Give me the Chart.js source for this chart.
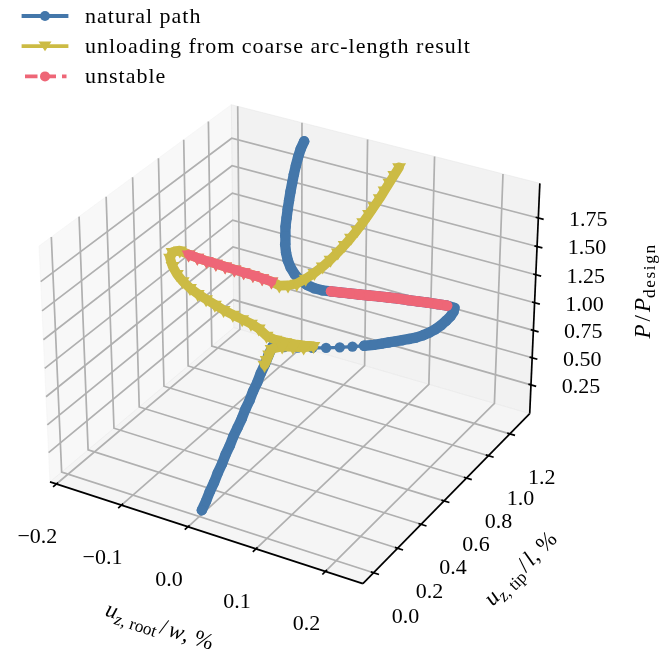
<!DOCTYPE html>
<html>
<head>
<meta charset="utf-8">
<title>natural path / unloading / unstable</title>
<script src="https://cdn.jsdelivr.net/npm/chart.js@4.4.1/dist/chart.umd.min.js"></script>
<style>
  html, body { margin: 0; padding: 0; background: #fff; }
  canvas { display: block; }
</style>
</head>
<body>
<canvas id="chart" width="660" height="660"></canvas>
<script>
// axis limits (data units) and ticks
const xLim = [-0.21, 0.253];
const yLim = [-0.087, 1.39];
const zLim = [-0.017, 2.05];
const xTicks = [-0.2, -0.1, 0.0, 0.1, 0.2];
const yTicks = [0.0, 0.2, 0.4, 0.6, 0.8, 1.0, 1.2];
const zTicks = [0.25, 0.5, 0.75, 1.0, 1.25, 1.5, 1.75];
const xTickLabels = ['−0.2', '−0.1', '0.0', '0.1', '0.2'];
const yTickLabels = ['0.0', '0.2', '0.4', '0.6', '0.8', '1.0', '1.2'];
const zTickLabels = ['0.25', '0.50', '0.75', '1.00', '1.25', '1.50', '1.75'];

// natural path  (x = u_z,root/w %, y = u_z,tip/l %, z = P/P_design)
const natX = [
  0.008, 0.008, 0.007, 0.007, 0.006, 0.006, 0.005, 0.005, 0.004, 0.004,
  0.004, 0.003, 0.003, 0.002, 0.002, 0.001, 0.001, 0.000, 0.000,
  0.0165, 0.036, 0.0569, 0.0763, 0.0951, 0.1123, 0.1277, 0.1407, 0.1506, 0.1594, 0.1683,
  0.1771, 0.1858, 0.1943, 0.2025, 0.2098, 0.2157, 0.2206, 0.2234, 0.2257, 0.2264, 0.2255,
  0.2126, 0.1974, 0.1822, 0.167, 0.1519, 0.1366, 0.1214, 0.1064, 0.0921, 0.0778, 0.0633, 0.0495, 0.0369, 0.0241,
  0.0148, 0.0044, -0.0065, -0.0174, -0.0284, -0.0378, -0.0466, -0.0544, -0.0619, -0.0673,
  -0.0723, -0.0771, -0.0816, -0.0861, -0.0895, -0.0929, -0.0935, -0.0936, -0.091, -0.0856
];
const natY = [
  -0.020, 0.014, 0.048, 0.082, 0.116, 0.150, 0.184, 0.218, 0.252, 0.287,
  0.321, 0.355, 0.389, 0.423, 0.457, 0.491, 0.525, 0.559, 0.593,
  0.5971, 0.6019, 0.6059, 0.6098, 0.6171, 0.6243, 0.6334, 0.6398, 0.6477, 0.6535, 0.6586,
  0.6644, 0.6708, 0.6778, 0.6869, 0.7008, 0.7148, 0.7351, 0.7598, 0.7835, 0.8043, 0.8177,
  0.8334, 0.8412, 0.849, 0.856, 0.8622, 0.8691, 0.8746, 0.8792, 0.8789, 0.8786, 0.8789, 0.875, 0.8724, 0.8704,
  0.8568, 0.8537, 0.8575, 0.873, 0.8985, 0.9262, 0.9602, 0.9957, 1.0371, 1.0713,
  1.1063, 1.142, 1.1784, 1.2153, 1.2484, 1.2817, 1.3021, 1.3216, 1.3295, 1.3287
];
const natZ = [
  0.077, 0.124, 0.170, 0.217, 0.263, 0.310, 0.357, 0.403, 0.450, 0.496,
  0.543, 0.590, 0.636, 0.683, 0.729, 0.776, 0.823, 0.869, 0.916,
  0.935, 0.96, 0.99, 1.02, 1.05, 1.08, 1.105, 1.13, 1.15, 1.17, 1.19,
  1.21, 1.23, 1.25, 1.275, 1.30, 1.325, 1.35, 1.37, 1.39, 1.41, 1.43,
  1.415, 1.395, 1.375, 1.355, 1.335, 1.315, 1.295, 1.275, 1.26, 1.245, 1.23, 1.22, 1.21, 1.20,
  1.215, 1.23, 1.25, 1.27, 1.29, 1.315, 1.34, 1.37, 1.40, 1.44,
  1.48, 1.52, 1.56, 1.60, 1.645, 1.69, 1.75, 1.81, 1.88, 1.956
];

// unloading from coarse arc-length result
const unlX = [
  0.0601, 0.0612, 0.0624, 0.0636, 0.0648, 0.0655, 0.0653, 0.066, 0.066, 0.0647,
  0.0628, 0.0603, 0.0573, 0.0531, 0.0477, 0.0419, 0.0348, 0.0244, 0.012,
  -0.0044, -0.0213, -0.0375, -0.0531, -0.0689, -0.0849, -0.101, -0.1169, -0.1334, -0.1499,
  -0.1671, -0.1749, -0.1709, -0.1579, -0.1443, -0.1298, -0.1153, -0.1016, -0.0881, -0.0741,
  -0.0602, -0.0464, -0.0332, -0.0207, -0.0086,
  0.0066, 0.0185, 0.0295, 0.0399, 0.0497, 0.0572, 0.0461, 0.0314, 0.0166,
  0.0001, 0.0004, 0.0007, 0.0009
];
const unlY = [
  1.3165, 1.268, 1.2187, 1.1698, 1.1212, 1.0719, 1.0272, 0.9737, 0.9243, 0.8785,
  0.8366, 0.7939, 0.7504, 0.7098, 0.6718, 0.6324, 0.6001, 0.5862, 0.5836,
  0.6097, 0.6266, 0.6394, 0.6486, 0.6585, 0.6691, 0.6798, 0.689, 0.7011, 0.7164,
  0.7354, 0.7175, 0.6773, 0.6296, 0.5939, 0.5651, 0.5472, 0.5374, 0.5321, 0.528,
  0.5238, 0.5242, 0.5281, 0.5311, 0.5285,
  0.5089, 0.5153, 0.5341, 0.5562, 0.5818, 0.6123, 0.594, 0.5874, 0.5807,
  0.5838, 0.5624, 0.5409, 0.5225
];
const unlZ = [
  1.956, 1.93, 1.905, 1.88, 1.855, 1.83, 1.80, 1.775, 1.75, 1.72,
  1.69, 1.66, 1.63, 1.60, 1.57, 1.545, 1.52, 1.50, 1.48,
  1.465, 1.45, 1.44, 1.43, 1.42, 1.41, 1.40, 1.39, 1.38, 1.37,
  1.36, 1.35, 1.34, 1.33, 1.315, 1.30, 1.28, 1.26, 1.24, 1.22,
  1.20, 1.18, 1.16, 1.14, 1.12,
  1.10, 1.08, 1.06, 1.04, 1.02, 1.00, 0.985, 0.97, 0.955,
  0.903, 0.874, 0.845, 0.820
];

// unstable stretches (first and last index, inclusive)
const natUnstable = [41, 53];
const unlUnstable = [19, 28];

// ---- 3d view like matplotlib's default (elev 30, azim -60, persp) ----
const ELEV = 30, AZIM = -60, DIST = 10;
const BOX = [4, 4, 3].map(v => v * 1.8294640721620434 / Math.hypot(4, 4, 3));
const el = ELEV * Math.PI / 180, az = AZIM * Math.PI / 180;
const W = [Math.cos(el) * Math.cos(az), Math.cos(el) * Math.sin(az), Math.sin(el)];
const U = (() => { const n = Math.hypot(W[0], W[1]); return [-W[1] / n, W[0] / n, 0]; })();
const V = [W[1] * U[2] - W[2] * U[1], W[2] * U[0] - W[0] * U[2], W[0] * U[1] - W[1] * U[0]];
// window of the projected plane shown on the canvas
const viewX = [-0.09117, 0.11406];
const viewY = [-0.10162, 0.10361];

function project(x, y, z) {
  const a = ((x - xLim[0]) / (xLim[1] - xLim[0]) - 0.5) * BOX[0];
  const b = ((y - yLim[0]) / (yLim[1] - yLim[0]) - 0.5) * BOX[1];
  const c = ((z - zLim[0]) / (zLim[1] - zLim[0]) - 0.5) * BOX[2];
  const depth = DIST - (W[0] * a + W[1] * b + W[2] * c);
  return [(U[0] * a + U[1] * b) / depth, (V[0] * a + V[1] * b + V[2] * c) / depth];
}

function track(xs, ys, zs, from = 0, to = xs.length - 1) {
  const pts = [];
  for (let i = from; i <= to; i++) {
    const [u, v] = project(xs[i], ys[i], zs[i]);
    pts.push({ x: u, y: v });
  }
  return pts;
}

const C_NAT = '#4477AA', C_UNL = '#CCBB44', C_UNS = '#EE6677';
const SERIF = '"Liberation Serif", "Times New Roman", serif';
const THIN = 3.4;

// dense runs of markers merge into a solid band, sparse ones show the thin line
function pathStyle(color, tri) {
  const band = tri ? 9.6 : 10.4;
  return {
    showLine: true,
    borderColor: color,
    backgroundColor: color,
    borderWidth: THIN,
    borderCapStyle: 'round',
    borderJoinStyle: 'round',
    pointStyle: tri ? 'triangle' : 'circle',
    pointRotation: tri ? 180 : 0,
    pointRadius: tri ? 8 : 5.2,
    pointBorderWidth: 0,
    pointBackgroundColor: color,
    tension: 0,
    clip: false,
    segment: {
      borderWidth: ctx => Math.hypot(ctx.p1.x - ctx.p0.x, ctx.p1.y - ctx.p0.y) < 11 ? band : THIN
    }
  };
}

// small math-text helper: italic / subscript pieces, centred and rotated
function drawMath(ctx, parts, cx, cy, angle, size) {
  const fontOf = p => `${p.it ? 'italic ' : ''}${p.sub ? size * 0.75 : size}px ${SERIF}`;
  ctx.save();
  ctx.translate(cx, cy);
  ctx.rotate(angle);
  ctx.textBaseline = 'alphabetic';
  ctx.textAlign = 'left';
  const setFont = p => { ctx.font = fontOf(p); ctx.letterSpacing = `${p.ls || 0}px`; };
  const widthOf = p => { setFont(p); return ctx.measureText(p.t).width + (p.pad || 0) * 2; };
  const w = parts.reduce((s, p) => s + widthOf(p), 0);
  let x = -w / 2;
  const base = size * 0.28;
  for (const p of parts) {
    const pw = widthOf(p);
    setFont(p);
    ctx.fillText(p.t, x + (p.pad || 0), p.sub ? base + size * 0.22 : base);
    x += pw;
  }
  ctx.restore();
}

const xLabel = [{ t: 'u', it: 1 }, { t: 'z', it: 1, sub: 1 }, { t: ', root', sub: 1 }, { t: '/', pad: 2.5 }, { t: 'w', it: 1 }, { t: ', %' }];
const yLabel = [{ t: 'u', it: 1 }, { t: 'z', it: 1, sub: 1 }, { t: ', tip', sub: 1 }, { t: '/', pad: 2.5 }, { t: 'l', it: 1 }, { t: ', %' }];
const zLabel = [{ t: 'P', it: 1 }, { t: '/', pad: 3 }, { t: 'P', it: 1 }, { t: 'design', sub: 1, ls: 1.6 }];

const frame3d = {
  id: 'frame3d',
  beforeDatasetsDraw(chart) {
    const { ctx } = chart;
    const sx = chart.scales.x, sy = chart.scales.y;
    const toPx = (x, y, z) => {
      const [u, v] = project(x, y, z);
      return [sx.getPixelForValue(u), sy.getPixelForValue(v)];
    };
    const path = pts => {
      ctx.beginPath();
      pts.forEach((p, i) => { const [a, b] = toPx(...p); i ? ctx.lineTo(a, b) : ctx.moveTo(a, b); });
    };
    const [x0, x1] = xLim, [y0, y1] = yLim, [z0, z1] = zLim;
    ctx.save();

    const panes = [
      [[[x0, y0, z0], [x0, y1, z0], [x0, y1, z1], [x0, y0, z1]], 'rgba(242,242,242,0.5)'],
      [[[x0, y1, z0], [x1, y1, z0], [x1, y1, z1], [x0, y1, z1]], 'rgba(230,230,230,0.5)'],
      [[[x0, y0, z0], [x1, y0, z0], [x1, y1, z0], [x0, y1, z0]], 'rgba(236,236,236,0.5)']
    ];
    for (const [pts, col] of panes) {
      path(pts); ctx.closePath();
      ctx.fillStyle = col; ctx.fill();
      ctx.strokeStyle = col; ctx.lineWidth = 1; ctx.stroke();
    }

    ctx.strokeStyle = '#b0b0b0';
    ctx.lineWidth = 1.7;
    xTicks.forEach(v => { path([[v, y0, z0], [v, y1, z0], [v, y1, z1]]); ctx.stroke(); });
    yTicks.forEach(v => { path([[x1, v, z0], [x0, v, z0], [x0, v, z1]]); ctx.stroke(); });
    zTicks.forEach(v => { path([[x1, y1, v], [x0, y1, v], [x0, y0, v]]); ctx.stroke(); });

    ctx.strokeStyle = '#000';
    ctx.lineWidth = 1.7;
    path([[x0, y0, z0], [x1, y0, z0]]); ctx.stroke();
    path([[x1, y0, z0], [x1, y1, z0]]); ctx.stroke();
    path([[x1, y1, z0], [x1, y1, z1]]); ctx.stroke();
    const dx = (x1 - x0) / 12, dy = (y1 - y0) / 12;
    xTicks.forEach(v => { path([[v, y0 + 0.1 * dy, z0], [v, y0 - 0.2 * dy, z0]]); ctx.stroke(); });
    yTicks.forEach(v => { path([[x1 - 0.1 * dx, v, z0], [x1 + 0.2 * dx, v, z0]]); ctx.stroke(); });
    zTicks.forEach(v => { path([[x1 - 0.1 * dx, y1, v], [x1 + 0.2 * dx, y1, v]]); ctx.stroke(); });

    ctx.fillStyle = '#000';
    ctx.font = `22px ${SERIF}`;
    ctx.textAlign = 'center';
    ctx.textBaseline = 'middle';
    xTicks.forEach((v, i) => { const [a, b] = toPx(v, y0, z0); ctx.fillText(xTickLabels[i], a - 19, b + 53); });
    yTicks.forEach((v, i) => { const [a, b] = toPx(x1, v, z0); ctx.fillText(yTickLabels[i], a + 32, b + 44); });
    zTicks.forEach((v, i) => { const [a, b] = toPx(x1, y1, v); ctx.fillText(zTickLabels[i], a + 50, b + 2); });

    const xm = (x0 + x1) / 2, ym = (y0 + y1) / 2, zm = (z0 + z1) / 2;
    const [xa, xb] = [toPx(x0, y0, z0), toPx(x1, y0, z0)];
    const [ya, yb] = [toPx(x1, y0, z0), toPx(x1, y1, z0)];
    let c = toPx(xm, y0, z0);
    drawMath(ctx, xLabel, c[0] - 43, c[1] + 95, Math.atan2(xb[1] - xa[1], xb[0] - xa[0]), 23);
    c = toPx(x1, ym, z0);
    drawMath(ctx, yLabel, c[0] + 71, c[1] + 74, Math.atan2(yb[1] - ya[1], yb[0] - ya[0]), 23);
    c = toPx(x1, y1, zm);
    drawMath(ctx, zLabel, c[0] + 109, c[1] - 10, -Math.PI / 2, 23);
    ctx.restore();
  }
};

const legend3d = {
  id: 'legend3d',
  afterDatasetsDraw(chart) {
    const { ctx } = chart;
    const rows = chart.data.datasets.slice(0, 3);
    rows.forEach((ds, i) => {
      const y = 16 + i * 30.2;
      const tri = ds.pointStyle === 'triangle';
      const dashed = i === 2;
      ctx.save();
      ctx.strokeStyle = ds.borderColor;
      ctx.fillStyle = ds.borderColor;
      ctx.lineWidth = 3.8;
      ctx.lineCap = dashed ? 'butt' : 'square';
      ctx.setLineDash(dashed ? [12.5, 6] : []);
      ctx.beginPath();
      ctx.moveTo(dashed ? 25 : 23.5, y);
      ctx.lineTo(66.5, y);
      ctx.stroke();
      ctx.beginPath();
      if (tri) {
        ctx.moveTo(45, y + 5);
        ctx.lineTo(38.5, y - 4.8);
        ctx.lineTo(51.5, y - 4.8);
        ctx.closePath();
      } else {
        ctx.arc(45, y, 5, 0, Math.PI * 2);
      }
      ctx.fill();
      ctx.fillStyle = '#000';
      ctx.font = `22px ${SERIF}`;
      ctx.letterSpacing = '1px';
      ctx.textAlign = 'left';
      ctx.textBaseline = 'alphabetic';
      ctx.fillText(ds.label, 85, y + 7);
      ctx.restore();
    });
  }
};

new Chart(document.getElementById('chart'), {
  type: 'line',
  data: {
    datasets: [
      { label: 'natural path', data: track(natX, natY, natZ), order: 4, ...pathStyle(C_NAT, false) },
      { label: 'unloading from coarse arc-length result', data: track(unlX, unlY, unlZ), order: 3, ...pathStyle(C_UNL, true) },
      { label: 'unstable', data: track(natX, natY, natZ, natUnstable[0], natUnstable[1]), order: 2, ...pathStyle(C_UNS, false) },
      { label: 'unstable', data: track(unlX, unlY, unlZ, unlUnstable[0], unlUnstable[1]), order: 1, ...pathStyle(C_UNS, true) }
    ]
  },
  options: {
    responsive: false,
    animation: false,
    devicePixelRatio: 1,
    events: [],
    layout: { padding: 0 },
    scales: {
      x: { type: 'linear', min: viewX[0], max: viewX[1], display: false },
      y: { type: 'linear', min: viewY[0], max: viewY[1], display: false }
    },
    plugins: { legend: { display: false }, tooltip: { enabled: false } }
  },
  plugins: [frame3d, legend3d]
});
</script>
</body>
</html>
